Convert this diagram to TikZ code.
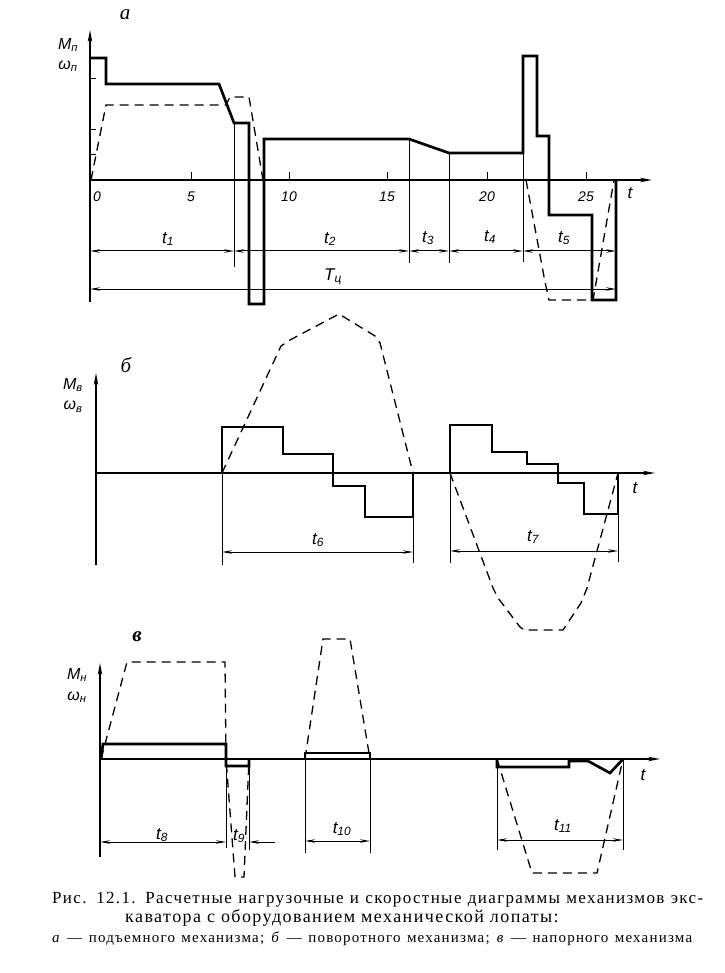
\documentclass[tikz,border=0pt]{standalone}
\usepackage{fontspec}
\setmainfont{Liberation Serif}
\setsansfont{Liberation Sans}
\newfontfamily\capfont{Liberation Serif}[LetterSpace=8]
\usetikzlibrary{arrows.meta}

\begin{document}
\begin{tikzpicture}[x=1pt, y=-1pt,
    axis/.style={line width=1.6pt, -{Stealth[length=12pt,width=4.5pt]}},
    load/.style={line width=2.7pt, line join=miter},
    speed/.style={line width=1.3pt, dash pattern=on 9pt off 6pt},
    bound/.style={line width=1pt},
    dim/.style={line width=1pt, {Stealth[length=10pt,width=3.5pt]}-{Stealth[length=10pt,width=3.5pt]}},
    dimend/.style={line width=1pt, -{Stealth[length=10pt,width=3.5pt]}},
    lbl/.style={font=\sffamily\itshape\fontsize{17}{17}\selectfont, inner sep=1pt},
    num/.style={font=\sffamily\itshape\fontsize{14}{14}\selectfont, inner sep=1pt},
    ylbl/.style={font=\sffamily\itshape\fontsize{16}{16}\selectfont, inner sep=1pt},
    paneltitle/.style={font=\itshape\fontsize{21}{21}\selectfont, inner sep=1pt},
    captext/.style={anchor=west, inner sep=0pt, font=\capfont\fontsize{18}{18}\selectfont}
]
\useasboundingbox (0,0) rectangle (724,973);

% Diagram a: hoist
\draw[axis] (90,302) -- (90,30);
\draw[axis] (90,180) -- (652,180);
\node[num] (a0) at (97,197) {0};
\foreach \x/\n in {191/5, 289/10, 387/15, 487/20, 586/25} {
    \draw[bound] (\x,180) -- (\x,172);
    \node[num] (a\n) at (\x,197) {\n};
}
\foreach \y in {79,130,155}
    \draw[bound] (90,\y) -- (96,\y);

\draw[load] (90,58) -- (106,58) -- (106,84) -- (219,84) -- (234,123) -- (249,123)
    -- (249,304) -- (264,304) -- (264,139) -- (409,139) -- (449,153) -- (523,153)
    -- (523,56) -- (537,56) -- (537,136) -- (549,136) -- (549,215) -- (592,215)
    -- (592,300) -- (616,300) -- (616,180);
\draw[speed] (91,180) -- (106,105) -- (226,105) -- (230,97) -- (249,97) -- (263,180);
\draw[speed] (526,180) -- (545,282) -- (549,300) -- (593,300) -- (614,180);

\draw[bound] (234,123) -- (234,267);
\draw[bound] (409,139) -- (409,263);
\draw[bound] (449,153) -- (449,263);
\draw[bound] (523,153) -- (523,262);

\draw[dim] (90,251) -- (234,251);
\draw[dim] (234,251) -- (409,251);
\draw[dim] (409,251) -- (449,251);
\draw[dim] (449,251) -- (523,251);
\draw[dim] (523,251) -- (616,251);
\draw[dim] (90,289) -- (616,289);

\node[lbl] (t1) at (168,239) {t\textsubscript{1}};
\node[lbl] (t2) at (330,239) {t\textsubscript{2}};
\node[lbl] (t3) at (428,238) {t\textsubscript{3}};
\node[lbl] (t4) at (490,237) {t\textsubscript{4}};
\node[lbl] (t5) at (564,238) {t\textsubscript{5}};
\node[lbl] (tc) at (333,277) {T\textsubscript{ц}};
\node[lbl] (ta) at (630,193) {t};
\node[ylbl] (Ma) at (68,45) {M\textsubscript{п}};
\node[ylbl] (wa) at (68,66) {ω\textsubscript{п}};
\node[paneltitle] (a) at (125,15) {а};

% Diagram b: swing
\draw[axis] (96,565) -- (96,373);
\draw[axis] (96,473) -- (655,473);

\draw[load] (96,473) -- (222,473) -- (222,427) -- (283,427) -- (283,454) -- (333,454)
    -- (333,486) -- (365,486) -- (365,517) -- (413,517) -- (413,473);
\draw[load] (450,473) -- (450,425) -- (492,425) -- (492,452) -- (527,452) -- (527,464)
    -- (558,464) -- (558,483) -- (584,483) -- (584,514) -- (618,514) -- (618,473);
\draw[speed] (222,473) -- (281,346) -- (290,340) -- (339,314) -- (375,336) -- (380,343) -- (413,473);
\draw[speed] (450,473) -- (493,588) -- (498,598) -- (520,627) -- (524,630) -- (563,630)
    -- (581,603) -- (587,588) -- (618,473);

\draw[bound] (222,473) -- (222,565);
\draw[bound] (413,517) -- (413,563);
\draw[bound] (450,473) -- (450,563);
\draw[bound] (618,514) -- (618,562);

\draw[dim] (222,552) -- (413,552);
\draw[dim] (450,551) -- (618,551);

\node[lbl] (t6) at (318,540) {t\textsubscript{6}};
\node[lbl] (t7) at (533,537) {t\textsubscript{7}};
\node[lbl] (tb) at (635,488) {t};
\node[ylbl] (Mb) at (73,385) {M\textsubscript{в}};
\node[ylbl] (wb) at (73,407) {ω\textsubscript{в}};
\node[paneltitle] (b) at (126,365) {б};

% Diagram v: crowd
\draw[axis] (100,857) -- (100,663);
\draw[axis] (100,759) -- (660,759);

\draw[load, line width=2.2pt] (100,759) -- (226,759);
\draw[load] (101,759) -- (103,744) -- (226,744) -- (226,766) -- (249,766) -- (249,759);
\draw[speed] (101,759) -- (127,662) -- (225,662) -- (226,759) -- (235,877) -- (244,877) -- (249,759);
\draw[load] (305,759) -- (305,753) -- (370,753) -- (370,759);
\draw[speed] (305,759) -- (323,639) -- (350,639) -- (370,759);
\draw[load] (497,759) -- (497,767) -- (569,767) -- (569,761) -- (588,761) -- (610,773) -- (623,759);
\draw[speed] (497,759) -- (532,873) -- (597,873) -- (623,759);

\draw[bound] (226,766) -- (226,848);
\draw[bound] (249,766) -- (249,850);
\draw[bound] (305,753) -- (305,853);
\draw[bound] (370,753) -- (370,853);
\draw[bound] (497,767) -- (497,850);
\draw[bound] (623,759) -- (623,850);

\draw[dim] (100,842) -- (226,842);
\draw[dimend] (275,842) -- (249,842);
\draw[dim] (305,841) -- (370,841);
\draw[dim] (497,840) -- (623,840);

\node[lbl] (t8) at (162,835) {t\textsubscript{8}};
\node[lbl] (t9) at (239,836) {t\textsubscript{9}};
\node[lbl] (t10) at (342,829) {t\textsubscript{10}};
\node[lbl] (t11) at (563,826) {t\textsubscript{11}};
\node[lbl] (tv) at (643,775) {t};
\node[ylbl] (Mv) at (77,675) {M\textsubscript{н}};
\node[ylbl] (wv) at (77,697) {ω\textsubscript{н}};
\node[paneltitle, font=\bfseries\itshape\fontsize{21}{21}\selectfont] (v) at (137,637) {в};

% Caption
\node[captext, font=\capfont\fontsize{17}{17}\selectfont] (cap1) at (52,900) {\makebox[651pt][s]{Рис. 12.1. Расчетные нагрузочные и скоростные диаграммы механизмов экс-}};
\node[captext] (cap2) at (125,918) {каватора с оборудованием механической лопаты:};
\node[captext, font=\capfont\fontsize{15}{15}\selectfont] (cap3) at (52,939) {\makebox[640pt][s]{\textit{а} — подъемного механизма; \textit{б} — поворотного механизма; \textit{в} — напорного механизма}};

\end{tikzpicture}
\end{document}
